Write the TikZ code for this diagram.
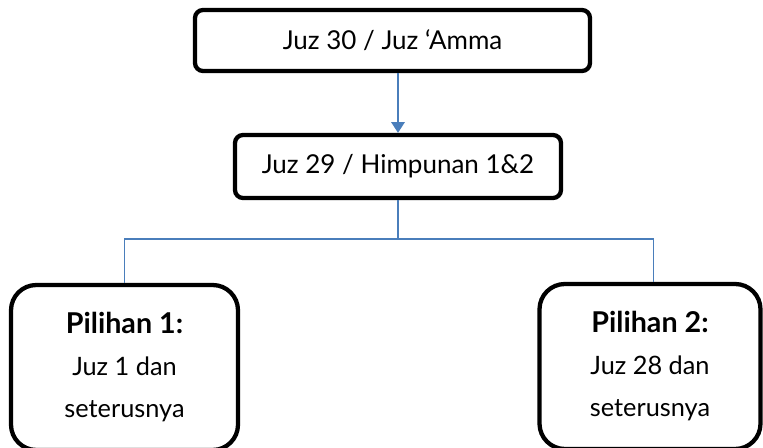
\documentclass[tikz,border=0pt]{standalone}
\usepackage{fontspec}
\setmainfont{Lato}
\usetikzlibrary{arrows.meta}
\definecolor{linkblue}{HTML}{4A7EBB}
\newcommand{\headtxt}[1]{{\fontsize{21.5}{31}\selectfont\textbf{#1}}}
\tikzset{
  box/.style={draw=black, line width=3.2pt, rounded corners=6pt, inner sep=0pt,
    font=\fontsize{19.5}{22}\selectfont},
  bigbox/.style={draw=black, line width=3.2pt, rounded corners=19pt, inner sep=0pt,
    align=center, font=\fontsize{19}{31.5}\selectfont},
  conn/.style={draw=linkblue, line width=1.2pt},
}
\begin{document}
\begin{tikzpicture}[x=0.75pt,y=-0.75pt]
\useasboundingbox (0,0) rectangle (763,448);
\node[box, minimum width=296.25pt, minimum height=45.75pt] (a) at (392.5,40.5) {Juz 30 / Juz ‘Amma};
\node[box, minimum width=244.5pt, minimum height=47.25pt] (b) at (398,166.5) {Juz 29 / Himpunan 1\&2};
\node[bigbox, minimum width=170.25pt, minimum height=123.75pt] (l) at (124.5,367.5) {\headtxt{Pilihan 1:}\\Juz 1 dan\\seterusnya};
\node[bigbox, minimum width=165.75pt, minimum height=123.75pt] (r) at (650,366.5) {\headtxt{Pilihan 2:}\\Juz 28 dan\\seterusnya};
\coordinate (hub) at (398,239);
\draw[conn, -{Triangle[width=10pt,length=8pt]}] (b.north |- a.south) -- (b.north);
\draw[conn] (b.south) -- (hub);
\draw[conn] (hub) -| (l.north);
\draw[conn] (hub) -| ([xshift=2.5pt]r.north);
\end{tikzpicture}
\end{document}
